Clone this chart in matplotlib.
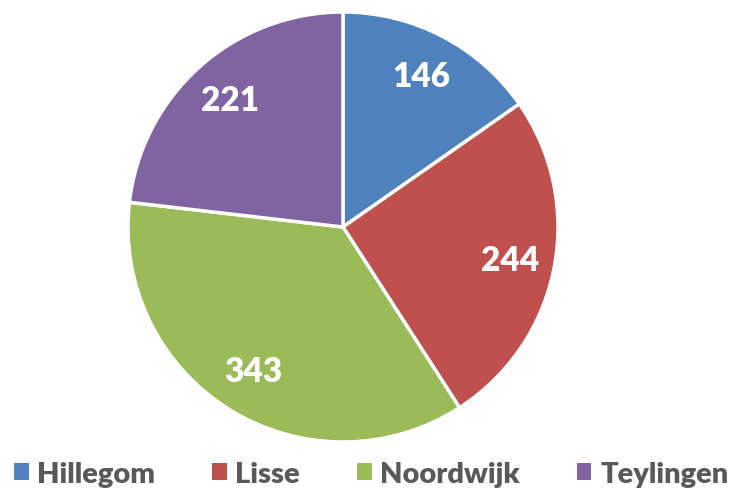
import matplotlib
matplotlib.use("Agg")
import matplotlib.pyplot as plt
from matplotlib.patches import Patch

gemeenten = ["Hillegom", "Lisse", "Noordwijk", "Teylingen"]
aantallen = [146, 244, 343, 221]
kleuren = ["#4F81BD", "#C0504D", "#9BBB59", "#8064A2"]

plt.rcParams['font.family'] = ['Lato', 'DejaVu Sans']

fig = plt.figure(figsize=(7.35, 4.89), dpi=100)
W, H = 735.0, 489.0
cx, cy, r = 343, 228, 215
ax = fig.add_axes([(cx - r) / W, (H - cy - r) / H, 2 * r / W, 2 * r / H])

wedges, texts = ax.pie(aantallen, colors=kleuren, startangle=90, counterclock=False,
                       labels=[str(a) for a in aantallen], labeldistance=0.79,
                       wedgeprops=dict(edgecolor="white", linewidth=2.5))
for t in texts:
    t.set_color("white")
    t.set_fontsize(24)
    t.set_fontweight("heavy")
    t.set_ha("center")
    t.set_va("center")
ax.set_aspect("equal")
ax.set_xlim(-1, 1)
ax.set_ylim(-1, 1)
ax.axis("off")

handles = [Patch(facecolor=c, edgecolor="none") for c in kleuren]
fig.legend(handles, gemeenten, loc="center", bbox_to_anchor=(0.505, 1 - 475 / H),
           ncol=4, frameon=False, handlelength=0.5, handleheight=0.5,
           handletextpad=0.3, columnspacing=1.95,
           prop=dict(size=21, weight="heavy"), labelcolor="#595959")

fig.savefig("out.png", dpi=100)
